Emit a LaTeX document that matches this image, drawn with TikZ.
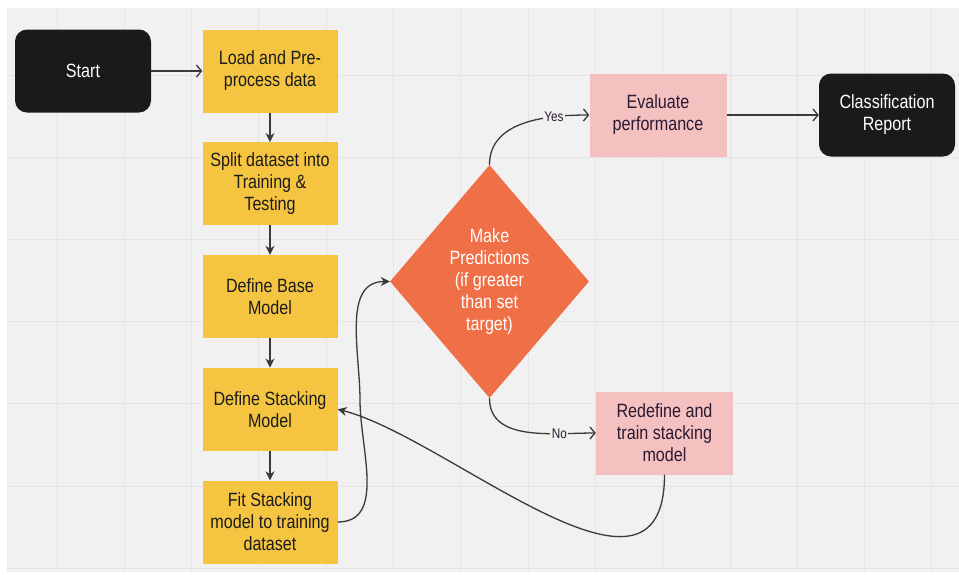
\documentclass[tikz,border=0pt]{standalone}
\usepackage{fontspec}
\setmainfont[FakeStretch=0.84]{Liberation Sans}
\usetikzlibrary{arrows.meta,positioning,shapes.geometric}
\definecolor{canvas}{HTML}{F1F1F1}
\definecolor{gridcol}{HTML}{E4E4E4}
\definecolor{stepyellow}{HTML}{F5C542}
\definecolor{evalpink}{HTML}{F4C0C0}
\definecolor{decorange}{HTML}{EF6F47}
\definecolor{termblack}{HTML}{1A1A1A}
\definecolor{ink}{HTML}{1C1C1C}
\definecolor{plum}{HTML}{2B1A33}
\definecolor{wire}{HTML}{3A3A3A}

\begin{document}
\begin{tikzpicture}[x=1pt,y=1pt,node distance=112.75pt,
  every node/.style={font=\fontsize{19.2}{22}\selectfont},
  stepbox/.style={rectangle,fill=stepyellow,text=ink,minimum width=135pt,minimum height=83pt,inner sep=2pt,align=center},
  pinkbox/.style={stepbox,fill=evalpink,text=plum,minimum width=137pt},
  terminal/.style={rectangle,rounded corners=12pt,fill=termblack,text=white,minimum width=136pt,minimum height=83pt,align=center},
  decision/.style={diamond,fill=decorange,text=white,minimum width=199pt,minimum height=233pt,inner sep=0pt,align=center},
  flow/.style={draw=wire,line width=1.3pt,-{Stealth[length=9pt,width=9pt]}},
  link/.style={draw=wire,line width=1.3pt,-{Straight Barb[length=5pt,width=12pt]}},
  tag/.style={fill=canvas,text=plum,inner sep=1.5pt,font=\fontsize{14}{16}\selectfont}]

\useasboundingbox (0,0) rectangle (959,-574);
\fill[white] (0,0) rectangle (959,-574);
\fill[canvas] (7,-8) rectangle (959,-572);
% grid
\foreach \k in {0,...,13}
  \draw[gridcol,line width=1pt] ({57+67.3*\k},-8) -- ({57+67.3*\k},-572);
\foreach \k in {0,...,6}
  \draw[gridcol,line width=1pt] (7,{-75-82.2*\k}) -- (959,{-75-82.2*\k});

% main column
\node[terminal] (start) at (83,-71) {Start};
\node[stepbox]  (load)  at (270,-71) {Load and Pre-\\process data};
\node[stepbox]  (split) [below of=load]  {Split dataset into\\Training \&\\Testing};
\node[stepbox]  (base)  [below of=split] {Define Base\\Model};
\node[stepbox]  (stack) [below of=base]  {Define Stacking\\Model};
\node[stepbox]  (fit)   [below of=stack] {Fit Stacking\\model to training\\dataset};

% decision and outcomes
\node[decision] (predict) at (489.5,-281.5) {Make\\Predictions\\(if greater\\than set\\target)};
\node[pinkbox]  (eval)   at (658,-115) {Evaluate\\performance};
\node[terminal] (report) [right of=eval,node distance=229pt] {Classification\\Report};
\node[pinkbox]  (redef)  at (664.5,-433) {Redefine and\\train stacking\\model};
\coordinate (rise) at (360,-400);

\draw[link] (start) -- (load);
\draw[flow] (load) -- (split);
\draw[flow] (split) -- (base);
\draw[flow] (base) -- (stack);
\draw[flow] (stack) -- (fit);
\draw[flow] (fit.east) to[out=0,in=-90] (rise) to[out=90,in=180] (predict.west);
\draw[link] (predict.north) to[out=90,in=180] node[tag,pos=0.74]{Yes} (eval.west);
\draw[link] (predict.south) to[out=-90,in=180] node[tag,pos=0.74]{No} (redef.west);
\draw[link] (eval) -- (report);
\draw[flow] (redef.south) .. controls +(0,-160) and +(110,-28) .. (stack.east);

\end{tikzpicture}
\end{document}
